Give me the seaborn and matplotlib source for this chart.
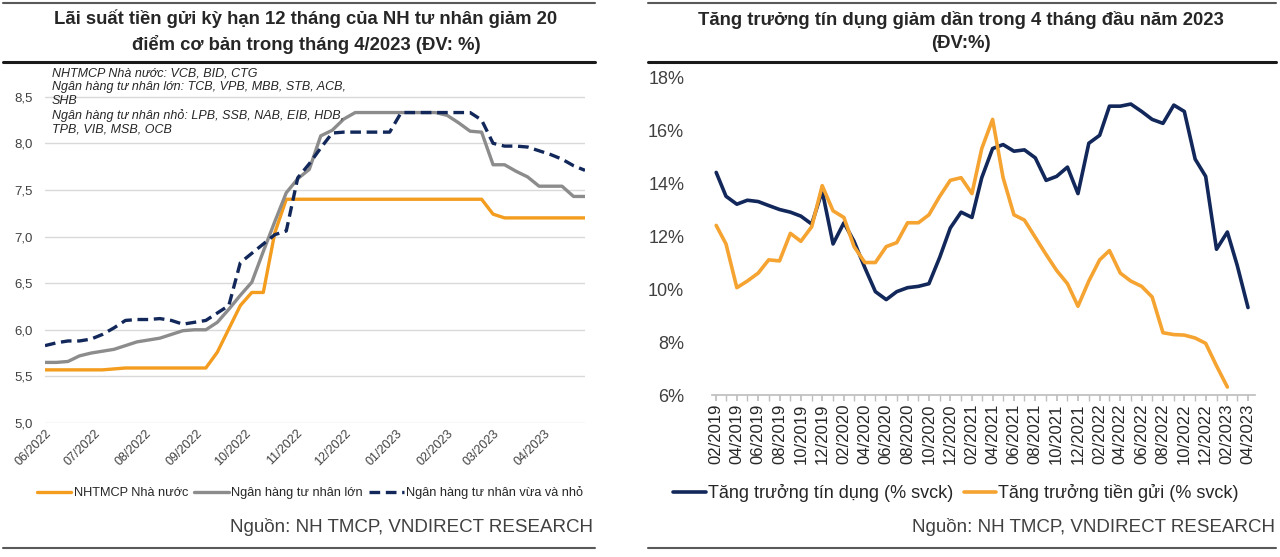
import numpy as np
import pandas as pd
import seaborn as sns
import matplotlib.pyplot as plt
import matplotlib.dates as mdates
from matplotlib.lines import Line2D
from matplotlib.ticker import FuncFormatter

# ---- left chart: 12M deposit rate, weekly from 06/2022 (%)
weeks = pd.date_range("2022-06-01", periods=48, freq="7D")
nha_nuoc = [5.57, 5.57, 5.57, 5.57, 5.57, 5.57, 5.58, 5.59, 5.59, 5.59,
            5.59, 5.59, 5.59, 5.59, 5.59, 5.76, 6.01, 6.26, 6.40, 6.40,
            7.04, 7.40, 7.40, 7.40, 7.40, 7.40, 7.40, 7.40, 7.40, 7.40,
            7.40, 7.40, 7.40, 7.40, 7.40, 7.40, 7.40, 7.40, 7.40, 7.24,
            7.20, 7.20, 7.20, 7.20, 7.20, 7.20, 7.20, 7.20]
tn_lon = [5.65, 5.65, 5.66, 5.72, 5.75, 5.77, 5.79, 5.83, 5.87, 5.89,
          5.91, 5.95, 5.99, 6.00, 6.00, 6.08, 6.22, 6.37, 6.51, 6.84,
          7.16, 7.47, 7.62, 7.72, 8.08, 8.14, 8.26, 8.33, 8.33, 8.33,
          8.33, 8.33, 8.33, 8.33, 8.33, 8.30, 8.22, 8.13, 8.12, 7.77,
          7.77, 7.70, 7.64, 7.54, 7.54, 7.54, 7.43, 7.43]
tn_nho = [5.83, 5.86, 5.88, 5.88, 5.90, 5.95, 6.02, 6.10, 6.11, 6.11,
          6.12, 6.10, 6.06, 6.08, 6.10, 6.18, 6.26, 6.72, 6.82, 6.92,
          7.02, 7.06, 7.63, 7.78, 7.95, 8.11, 8.12, 8.12, 8.12, 8.12,
          8.12, 8.33, 8.33, 8.33, 8.33, 8.33, 8.33, 8.33, 8.25, 8.00,
          7.97, 7.97, 7.96, 7.92, 7.88, 7.83, 7.76, 7.71]
ten_left = ["NHTMCP Nhà nước", "Ngân hàng tư nhân lớn", "Ngân hàng tư nhân vừa và nhỏ"]

# ---- right chart: yoy growth, monthly from 02/2019 (%)
months = pd.date_range("2019-02-01", periods=51, freq="MS")
tin_dung = [14.4, 13.5, 13.2, 13.35, 13.3, 13.15, 13.0, 12.9, 12.75, 12.45,
            13.7, 11.7, 12.5, 11.8, 10.8, 9.9, 9.6, 9.9, 10.05, 10.1,
            10.2, 11.2, 12.3, 12.9, 12.7, 14.2, 15.3, 15.45, 15.2, 15.25,
            14.95, 14.1, 14.25, 14.6, 13.6, 15.5, 15.8, 16.9, 16.9, 16.98,
            16.7, 16.4, 16.25, 16.94, 16.7, 14.9, 14.25, 11.5, 12.15, 10.9, 9.3]
tien_gui = [12.4, 11.7, 10.05, 10.3, 10.6, 11.1, 11.06, 12.1, 11.8, 12.35,
            13.9, 12.95, 12.7, 11.6, 11.0, 11.0, 11.6, 11.75, 12.5, 12.5,
            12.8, 13.5, 14.1, 14.2, 13.6, 15.3, 16.4, 14.2, 12.8, 12.6,
            11.95, 11.3, 10.7, 10.2, 9.35, 10.3, 11.1, 11.45, 10.6, 10.3,
            10.1, 9.7, 8.35, 8.28, 8.26, 8.15, 7.95, 7.1, 6.3]
ten_right = ["Tăng trưởng tín dụng (% svck)", "Tăng trưởng tiền gửi (% svck)"]

ORANGE = "#F39C1E"
GRAY = "#8C8C8C"
NAVY = "#12275A"
TXT = "#262626"

sns.set_theme(style="white")
plt.rcParams["font.family"] = ["Liberation Sans", "DejaVu Sans"]

W, H = 1280, 557
fig = plt.figure(figsize=(12.8, 5.57), dpi=100)


def fx(px):
    return px / W


def fy(py):
    return 1 - py / H


# ================= left =================
ax1 = fig.add_axes([fx(45), fy(423), fx(540), 358 / H])
df_l = pd.DataFrame({"tuan": weeks, ten_left[0]: nha_nuoc,
                     ten_left[1]: tn_lon, ten_left[2]: tn_nho})
sns.lineplot(data=df_l, x="tuan", y=ten_left[0], ax=ax1, color=ORANGE, lw=2.4, label=ten_left[0])
sns.lineplot(data=df_l, x="tuan", y=ten_left[1], ax=ax1, color=GRAY, lw=2.4, label=ten_left[1])
sns.lineplot(data=df_l, x="tuan", y=ten_left[2], ax=ax1, color=NAVY, lw=2.4,
             linestyle=(0, (3.2, 1.7)), label=ten_left[2])
ax1.set_xlim(weeks[0], weeks[-1])
ax1.set_ylim(5.0, 8.84)
ax1.set_yticks(np.arange(5.0, 8.6, 0.5))
ax1.yaxis.set_major_formatter(FuncFormatter(lambda v, p: f"{v:.1f}".replace(".", ",")))
ax1.xaxis.set_major_locator(mdates.MonthLocator())
ax1.xaxis.set_major_formatter(mdates.DateFormatter("%m/%Y"))
ax1.yaxis.grid(True, color="#D9D9D9", lw=1)
ax1.set(xlabel="", ylabel="")
sns.despine(ax=ax1, left=True, bottom=True)
ax1.tick_params(axis="y", length=0, pad=9, labelsize=9.5, labelcolor="#404040")
ax1.tick_params(axis="x", length=0, pad=3, labelsize=9, labelcolor="#404040")
plt.setp(ax1.get_xticklabels(), rotation=45, ha="right", rotation_mode="anchor")
ax1.get_legend().remove()

fig.text(fx(52), fy(67.5), "NHTMCP Nhà nước: VCB, BID, CTG\n"
         "Ngân hàng tư nhân lớn: TCB, VPB, MBB, STB, ACB,\nSHB\n"
         "Ngân hàng tư nhân nhỏ: LPB, SSB, NAB, EIB, HDB,\nTPB, VIB, MSB, OCB",
         ha="left", va="top", fontsize=9, style="italic", color=TXT, linespacing=1.2)

h1, l1 = ax1.get_legend_handles_labels()
fig.legend(h1, l1, loc="center", bbox_to_anchor=(fx(310), fy(493)), ncol=3, frameon=False,
           fontsize=9.2, handlelength=2.7, handletextpad=0.2, columnspacing=0.5,
           labelcolor=TXT)

fig.text(fx(306), fy(31.5), "Lãi suất tiền gửi kỳ hạn 12 tháng của NH tư nhân giảm 20\n"
         "điểm cơ bản trong tháng 4/2023 (ĐV: %)", ha="center", va="center",
         fontsize=13.3, fontweight="bold", color=TXT, linespacing=1.45)
fig.text(fx(593), fy(527), "Nguồn: NH TMCP, VNDIRECT RESEARCH", ha="right", va="center",
         fontsize=13.5, color="#404040")

# ================= right =================
ax2 = fig.add_axes([fx(712), fy(395), fx(543), 327 / H])
df_td = pd.DataFrame({"thang": months, "gt": tin_dung})
df_tg = pd.DataFrame({"thang": months[:len(tien_gui)], "gt": tien_gui})
sns.lineplot(data=df_td, x="thang", y="gt", ax=ax2, color=NAVY, lw=2.6, label=ten_right[0])
sns.lineplot(data=df_tg, x="thang", y="gt", ax=ax2, color="#F5A331", lw=2.6, label=ten_right[1])
ax2.set_xlim(months[0] - pd.Timedelta(days=12), months[-1] + pd.Timedelta(days=20))
ax2.set_ylim(6, 18.34)
ax2.set_yticks(np.arange(6, 18.1, 2))
ax2.yaxis.set_major_formatter(FuncFormatter(lambda v, p: f"{v:.0f}%"))
ax2.xaxis.set_major_locator(mdates.MonthLocator(bymonth=[2, 4, 6, 8, 10, 12]))
ax2.xaxis.set_minor_locator(mdates.MonthLocator())
ax2.xaxis.set_major_formatter(mdates.DateFormatter("%m/%Y"))
ax2.set(xlabel="", ylabel="")
sns.despine(ax=ax2, left=True)
ax2.spines["bottom"].set_color("#BFBFBF")
ax2.tick_params(axis="y", length=0, pad=20, labelsize=13, labelcolor="#404040")
ax2.tick_params(axis="x", which="both", bottom=True, length=4, color="#BFBFBF",
                direction="out", pad=2, labelsize=12, labelcolor=TXT)
plt.setp(ax2.get_xticklabels(), rotation=90)
ax2.get_legend().remove()

h2, l2 = ax2.get_legend_handles_labels()
fig.legend(h2, l2, loc="center", bbox_to_anchor=(fx(956), fy(493)), ncol=2, frameon=False,
           fontsize=13, handlelength=1.8, handletextpad=0.1, columnspacing=0.6,
           labelcolor=TXT)

fig.text(fx(961), fy(31.5), "Tăng trưởng tín dụng giảm dần trong 4 tháng đầu năm 2023\n(ĐV:%)",
         ha="center", va="center", fontsize=13.3, fontweight="bold", color=TXT, linespacing=1.45)
fig.text(fx(1275), fy(527), "Nguồn: NH TMCP, VNDIRECT RESEARCH", ha="right", va="center",
         fontsize=13.5, color="#404040")

# horizontal rules of the two panels
for x0, x1 in [(3, 595), (648, 1276)]:
    fig.add_artist(Line2D([fx(x0), fx(x1)], [fy(3), fy(3)], transform=fig.transFigure,
                          color="#595959", lw=1.5))
    fig.add_artist(Line2D([fx(x0), fx(x1)], [fy(62), fy(62)], transform=fig.transFigure,
                          color="#1A1A1A", lw=2.2))
    fig.add_artist(Line2D([fx(x0), fx(x1)], [fy(548), fy(548)], transform=fig.transFigure,
                          color="#595959", lw=1.5))

fig.savefig("out.png", dpi=100, facecolor="white")
